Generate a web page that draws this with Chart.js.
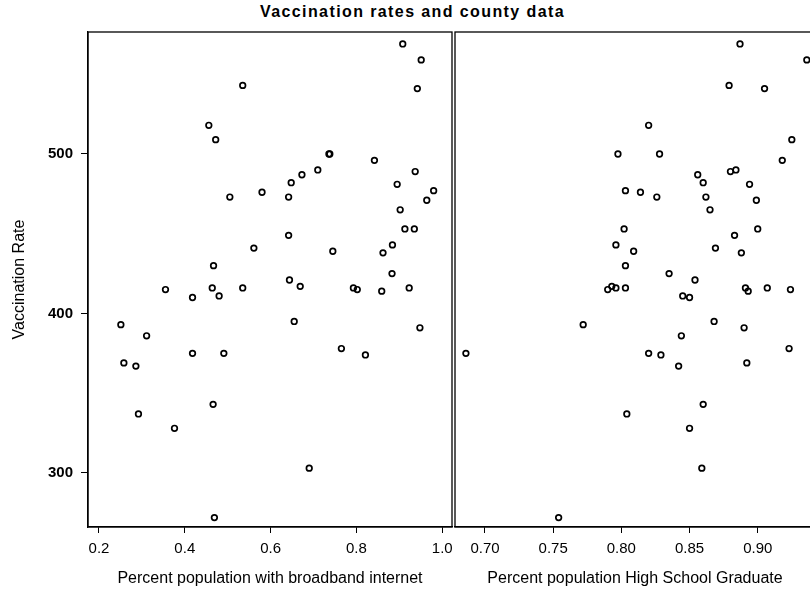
<!DOCTYPE html>
<html>
<head>
<meta charset="utf-8">
<script src="https://cdn.jsdelivr.net/npm/chart.js@4.4.1/dist/chart.umd.min.js"></script>
<style>
  html, body { margin: 0; padding: 0; background: #fff; overflow: hidden; width: 810px; height: 590px; }
  #title { position: absolute; left: 0; width: 825px; top: 3px; text-align: center;
           font: bold 16px "Liberation Sans", Arial, sans-serif; letter-spacing: 1.4px; color: #000; }
  #left { position: absolute; left: 0; top: 0; }
  #right { position: absolute; left: 440px; top: 0; }
</style>
</head>
<body>
<div id="title">Vaccination rates and county data</div>
<canvas id="left" width="460" height="590"></canvas>
<canvas id="right" width="400" height="590"></canvas>
<script>
// one entry per county, same order in every array
var vaccinationRate = [543, 518, 509, 473, 476, 441, 430, 415, 416, 416,
                       569, 559, 541, 500, 500, 496, 489, 490, 487, 482,
                       473, 481, 477, 471, 465, 453, 453, 449, 439, 443,
                       438, 425, 421, 417, 416, 415, 414, 416, 395, 391,
                       378, 374, 303, 410, 411, 393, 386, 369, 367, 375,
                       375, 337, 343, 328, 272];
var broadband = [0.535, 0.456, 0.472, 0.505, 0.580, 0.561, 0.467, 0.355, 0.464, 0.535,
                 0.908, 0.951, 0.942, 0.736, 0.738, 0.842, 0.937, 0.710, 0.673, 0.648,
                 0.642, 0.895, 0.980, 0.964, 0.902, 0.913, 0.935, 0.642, 0.745, 0.884,
                 0.862, 0.883, 0.644, 0.669, 0.793, 0.802, 0.859, 0.923, 0.655, 0.948,
                 0.765, 0.821, 0.690, 0.418, 0.480, 0.251, 0.311, 0.258, 0.286, 0.418,
                 0.491, 0.292, 0.466, 0.376, 0.469];
var highSchool = [0.879, 0.820, 0.925, 0.826, 0.814, 0.869, 0.803, 0.924, 0.796, 0.803,
                  0.887, 0.936, 0.905, 0.7975, 0.828, 0.918, 0.880, 0.884, 0.856, 0.860,
                  0.862, 0.894, 0.803, 0.899, 0.865, 0.802, 0.900, 0.883, 0.809, 0.796,
                  0.888, 0.835, 0.854, 0.793, 0.891, 0.790, 0.893, 0.907, 0.868, 0.890,
                  0.923, 0.829, 0.859, 0.850, 0.845, 0.772, 0.844, 0.892, 0.842, 0.686,
                  0.820, 0.804, 0.860, 0.850, 0.754];

var yTicks = [300, 400, 500];
var broadbandTicks = [0.2, 0.4, 0.6, 0.8, 1.0];
var highSchoolTicks = [0.70, 0.75, 0.80, 0.85, 0.90];

var fontFamily = '"Liberation Sans", Arial, sans-serif';

function pairs(xs) {
    return xs.map(function (x, i) { return { x: x, y: vaccinationRate[i] }; });
}

// box around the plot area
var frame = {
    id: 'frame',
    afterDraw: function (chart) {
        var a = chart.chartArea, c = chart.ctx;
        c.save();
        c.strokeStyle = '#000';
        c.lineWidth = 1.3;
        c.strokeRect(a.left, a.top, a.right - a.left, a.bottom - a.top);
        c.restore();
    }
};

function xScale(min, max, ticks, digits, label) {
    return {
        type: 'linear', min: min, max: max,
        afterBuildTicks: function (s) { s.ticks = ticks.map(function (v) { return { value: v }; }); },
        afterFit: function (s) { s.height = 63; },
        grid: { drawOnChartArea: false, color: '#000', tickLength: 6 },
        border: { color: '#000', width: 1.3 },
        ticks: {
            color: '#000', padding: 7, maxRotation: 0, autoSkip: false,
            font: { family: fontFamily, size: 15 },
            callback: function (v) { return Number(v).toFixed(digits); }
        },
        title: {
            display: true, text: label, color: '#000',
            font: { family: fontFamily, size: 16 },
            padding: { top: 0, bottom: 2 }
        }
    };
}

var yRange = { min: 266.1, max: 576.5 };

var dataset = function (xs) {
    return [{
        data: pairs(xs),
        pointStyle: 'circle',
        pointRadius: 2.8,
        pointBorderWidth: 1.7,
        pointBorderColor: '#000',
        pointBackgroundColor: 'rgba(255,255,255,0)',
        showLine: false
    }];
};

new Chart(document.getElementById('left'), {
    type: 'scatter',
    data: { datasets: dataset(broadband) },
    options: {
        responsive: false, animation: false,
        layout: { padding: { top: 32, right: 8, left: 0, bottom: 0 } },
        plugins: { legend: { display: false }, tooltip: { enabled: false } },
        scales: {
            x: xScale(0.1744, 1.0228, broadbandTicks, 1, 'Percent population with broadband internet'),
            y: {
                type: 'linear', min: yRange.min, max: yRange.max,
                afterBuildTicks: function (s) { s.ticks = yTicks.map(function (v) { return { value: v }; }); },
                afterFit: function (s) { s.width = 88; },
                grid: { drawOnChartArea: false, color: '#000', tickLength: 7 },
                border: { color: '#000', width: 1.3 },
                ticks: { color: '#000', padding: 8, font: { family: fontFamily, size: 15, weight: 'bold' } },
                title: {
                    display: true, text: 'Vaccination Rate', color: '#000',
                    font: { family: fontFamily, size: 16 },
                    padding: { top: 10, bottom: 0 }
                }
            }
        }
    },
    plugins: [frame]
});

new Chart(document.getElementById('right'), {
    type: 'scatter',
    data: { datasets: dataset(highSchool) },
    options: {
        responsive: false, animation: false,
        layout: { padding: { top: 32, right: 25, left: 15, bottom: 0 } },
        plugins: { legend: { display: false }, tooltip: { enabled: false } },
        scales: {
            x: xScale(0.678, 0.942, highSchoolTicks, 2, 'Percent population High School Graduate'),
            y: { type: 'linear', min: yRange.min, max: yRange.max, display: false }
        }
    },
    plugins: [frame]
});
</script>
</body>
</html>
